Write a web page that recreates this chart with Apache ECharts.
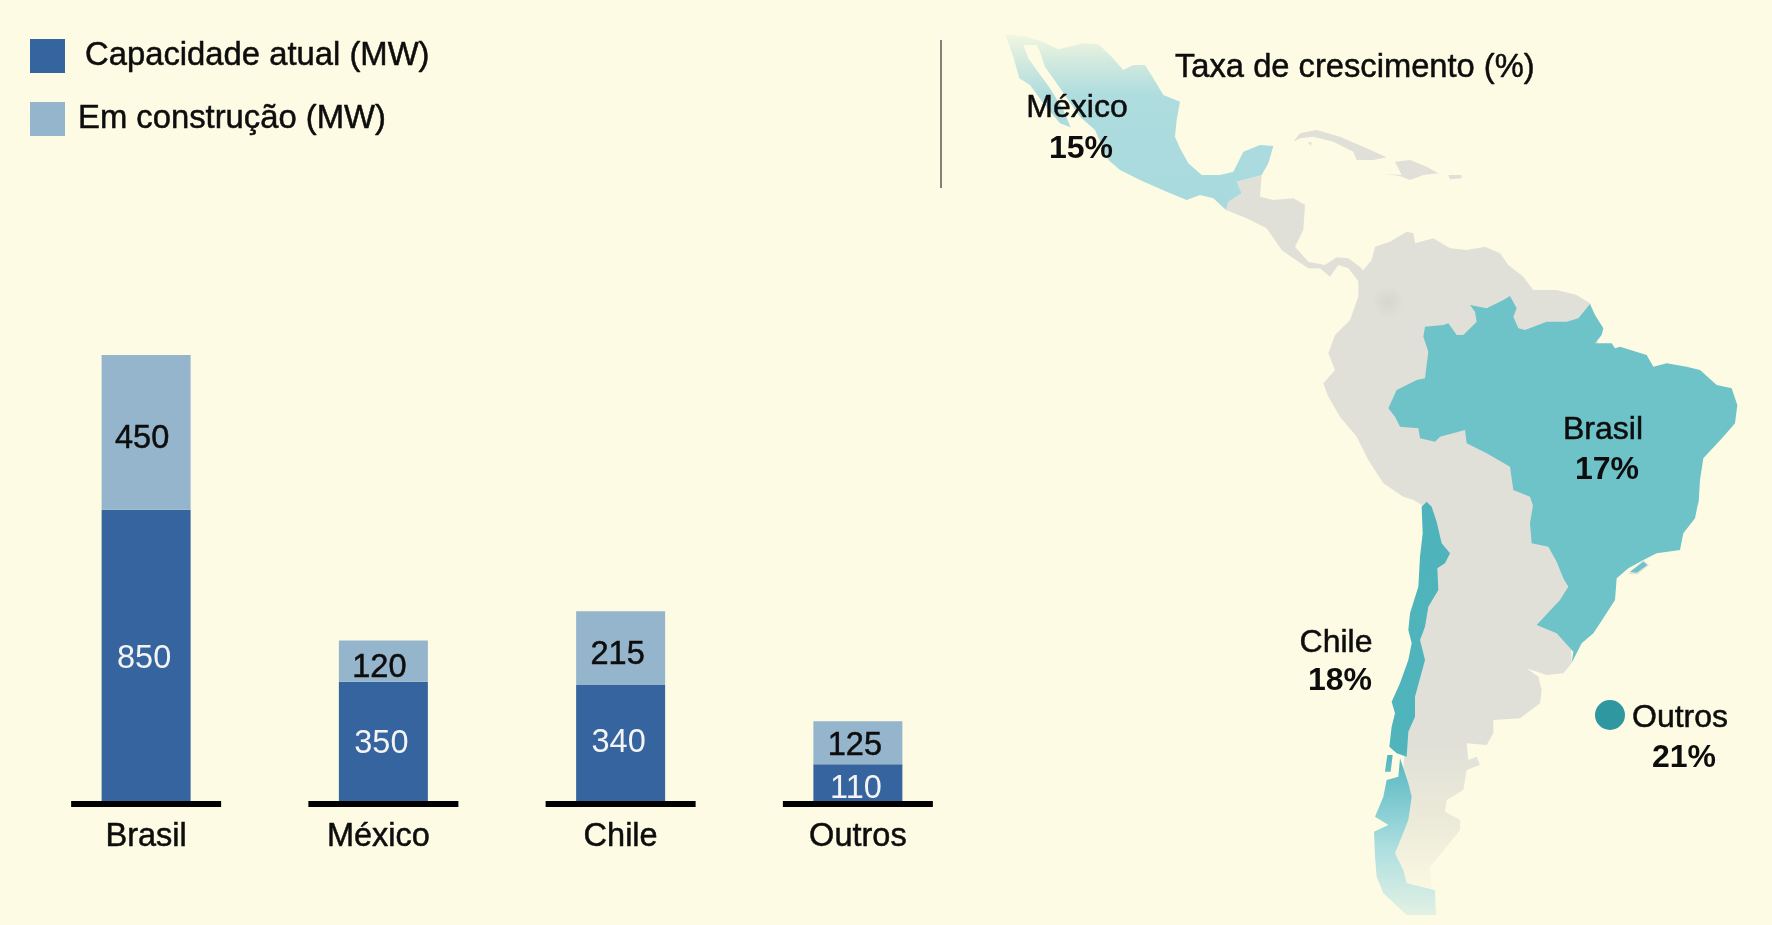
<!DOCTYPE html>
<html>
<head>
<meta charset="utf-8">
<style>html,body{margin:0;padding:0;background:#fdfbe3}#c{width:1772px;height:925px}</style>
<script src="https://cdn.jsdelivr.net/npm/echarts@6/dist/echarts.min.js"></script>
</head>
<body>
<div id="c"></div>
<script>
// ---- data ----
const categories = ['Brasil', 'México', 'Chile', 'Outros'];
const capacidadeAtual = [850, 350, 340, 110];
const emConstrucao = [450, 120, 215, 125];
const growthNames = ['México', 'Brasil', 'Chile', 'Outros'];
const growthValues = [15, 17, 18, 21];

// label nudges (px), kept apart from the values
const capacidadeNudge = [[-2,3],[-2,2],[-2,-1],[-2,6]];
const construcaoNudge = [[-4,7],[-4,7],[-3,7],[-3,3]];

// ---- map outlines (crop coordinates, 3x) ----
const crop = (ox, oy) => pts => pts.map(([x, y]) => [ox + x / 3, oy + y / 3]);
const north = crop(980, 20), mid = crop(1300, 220), south = crop(1300, 500);

const mexicoOutline = north([[75,42],[140,50],[180,62],[235,88],[310,70],[355,72],[395,110],[430,150],[460,135],[495,135],[520,175],[550,225],[600,245],[590,300],[585,350],[600,385],[625,430],[665,465],[720,465],[760,455],[790,395],[840,375],[880,378],[865,430],[845,465],[770,485],[785,520],[745,545],[738,570],[700,535],[660,525],[620,540],[560,515],[480,480],[420,450],[385,420],[345,330],[300,290],[265,240],[230,190],[195,140],[178,90],[170,75],[130,75],[145,115],[170,150],[210,205],[250,270],[272,322],[240,310],[190,250],[150,195],[118,175],[100,110]]);
const centralAmerica = north([[770,485],[845,465],[840,530],[880,540],[940,535],[975,555],[970,630],[945,680],[985,725],[1035,735],[1070,712],[1105,715],[1145,745],[1160,780],[1140,790],[1105,745],[1075,735],[1050,770],[1020,745],[985,745],[940,715],[905,690],[860,625],[800,595],[738,570],[745,545],[785,520]]);
const cuba = north([[940,365],[960,340],[1010,330],[1080,350],[1160,385],[1220,412],[1180,420],[1130,420],[1120,395],[1060,365],[1000,350],[960,355]]);
const hispaniola = north([[1215,462],[1265,465],[1245,425],[1290,420],[1340,440],[1375,460],[1330,465],[1290,480],[1260,468]]);
const puertoRico = north([[1405,465],[1445,465],[1445,475],[1410,478]]);
const jamaica = north([[983,367],[996,367],[992,377]]);
const southAmerica = [
  ...mid([[175,150],[190,150],[215,120],[225,80],[270,65],[320,35],[340,40],[345,70],[400,55],[450,85],[500,90],[555,80],[600,100],[625,135],[670,170],[700,210],[770,210],[830,225],[870,250],[900,400],[800,600]]),
  ...south([[800,100],[815,490],[790,520],[740,525],[680,505],[715,530],[725,570],[720,610],[660,655],[580,660],[580,700],[560,735],[500,730],[505,780],[530,770],[540,795],[500,810],[490,870],[440,900],[435,935],[480,960],[480,990],[440,1040],[390,1100],[395,1165],[310,1150],[280,1100],[285,1040],[300,900],[310,800],[320,700],[320,600],[345,500],[350,400],[365,300],[385,200],[390,100],[365,15],[340,0]]),
  ...mid([[310,830],[250,790],[205,720],[170,650],[120,590],[85,530],[70,490],[105,450],[85,400],[105,345],[150,300],[175,230]])
];
const maracaibo = mid([[315,105],[335,90],[345,110],[330,122]]);
const brazilOutline = [
  ...mid([[375,320],[430,315],[445,310],[470,345],[490,345],[530,305],[525,275],[510,255],[560,265],[610,240],[630,228],[650,265],[640,290],[655,325],[675,330],[740,305],[800,305],[835,295],[870,252],[885,285],[910,325],[905,345],[885,370],[935,370],[945,385],[960,380],[1040,405],[1060,440],[1100,430],[1160,440],[1200,450],[1250,495],[1295,505],[1312,555],[1305,610],[1270,650],[1210,715],[1200,780],[1195,860]]),
  ...south([[1195,5],[1185,55],[1150,100],[1140,150],[1070,160],[1030,180],[985,205],[950,235],[945,300],[900,370],[880,400],[845,430],[815,488],[820,455],[770,400],[710,375],[780,300],[805,260],[790,235],[770,185],[745,140],[695,130],[690,70],[700,10]]),
  ...mid([[700,860],[690,830],[640,810],[630,740],[560,700],[500,670],[495,630],[420,650],[405,665],[360,655],[355,625],[300,620],[285,590],[265,565],[290,510],[350,480],[375,475],[385,395],[370,350]])
];
const lagoon = south([[990,215],[1030,185],[1042,195],[1010,218]]);
const lagoonFloor = south([[985,222],[1030,180],[1047,195],[1012,223]]);
const chileNorth = south([[380,5],[395,20],[410,65],[425,130],[450,160],[435,190],[412,205],[415,270],[385,320],[375,380],[360,420],[375,480],[345,590],[345,650],[325,695],[320,770],[290,760],[268,740],[275,680],[285,640],[275,605],[300,550],[325,480],[335,430],[325,390],[330,340],[355,260],[360,170],[368,100],[365,20]]);
const chiloe = south([[262,765],[278,765],[272,815],[255,815]]);
const chileSouth = south([[300,775],[325,850],[335,890],[325,960],[305,1010],[285,1060],[310,1110],[320,1150],[405,1170],[408,1245],[320,1245],[250,1180],[230,1130],[225,1070],[222,995],[265,975],[225,950],[250,890],[260,840],[295,830]]);

// label anchors in map coordinates
const nameAnchors = [[1077,108],[1603,430],[1336,643],[1680,718]];
const valueAnchors = [[1081,149],[1607,470],[1340,681],[1684,758]];
const outrosDot = [[1610,715]];

const feature = (name, type, coordinates) => ({type:'Feature', properties:{name}, geometry:{type, coordinates}});
echarts.registerMap('latam', {type:'FeatureCollection', features:[
  feature('Caribe', 'MultiPolygon', [[centralAmerica],[cuba],[hispaniola],[puertoRico],[jamaica],[lagoonFloor]]),
  feature('Sul', 'Polygon', [southAmerica, maracaibo]),
  feature('Mexico', 'Polygon', [mexicoOutline]),
  feature('Chile', 'MultiPolygon', [[chileNorth],[chiloe],[chileSouth]]),
  feature('Brasil', 'Polygon', [brazilOutline, lagoon])
]});

const INK = '#0d0d0d', FONT = '"Liberation Sans", Arial, sans-serif';
const HEAVY = {textBorderColor:INK, textBorderWidth:0.5};
const vGrad = stops => ({type:'linear', x:0, y:0, x2:0, y2:1, colorStops:stops.map(([offset,color])=>({offset,color}))});
const GREY = '#e0e0d8';

const chart = echarts.init(document.getElementById('c'), null, {renderer:'canvas'});
chart.setOption({
  animation:false,
  backgroundColor:'#fdfbe3',
  textStyle:{fontFamily:FONT},
  title:{text:'Taxa de crescimento (%)', left:1175, top:51, padding:0, textStyle:{fontFamily:FONT,fontSize:32.7,fontWeight:'normal',color:INK,...HEAVY}},
  legend:[
    {data:['Capacidade atual (MW)'], left:30, top:39, padding:0, itemWidth:35, itemHeight:34, selectedMode:false, icon:'rect',
     textStyle:{fontFamily:FONT,fontSize:32.8,color:INK,padding:[4,0,0,15],...HEAVY}},
    {data:['Em construção (MW)'], left:30, top:102, padding:0, itemWidth:35, itemHeight:34, selectedMode:false, icon:'rect',
     textStyle:{fontFamily:FONT,fontSize:32.8,color:INK,padding:[0,0,4,8],...HEAVY}}
  ],
  grid:{left:27.5, top:355, width:949, height:447, containLabel:false},
  xAxis:{type:'category',
    data:categories.map(c => c === 'México' ? {value:c, textStyle:{padding:[0,10,0,0]}} : c),
    axisLine:{show:false}, axisTick:{show:false},
    axisLabel:{fontFamily:FONT,fontSize:32.5,color:INK,margin:19,interval:0,...HEAVY}},
  yAxis:{type:'value', min:0, max:1300, show:false, splitLine:{show:false}},
  geo:{map:'latam', silent:true, roam:false, left:0, top:0, width:1772, height:925,
    boundingCoords:[[0,0],[1772,925]], aspectScale:1,
    projection:{project:p=>p, unproject:p=>p},
    label:{show:false},
    itemStyle:{areaColor:GREY, borderWidth:0, borderColor:'transparent'},
    regions:[
      {name:'Caribe', itemStyle:{areaColor:GREY, borderWidth:0}},
      {name:'Sul', itemStyle:{areaColor:vGrad([[0,GREY],[0.78,GREY],[0.9,'#ecebd9'],[1,'#faf8e2']]), borderWidth:0}},
      {name:'Mexico', itemStyle:{areaColor:vGrad([[0,'#f3f7e1'],[0.15,'#d3eadf'],[0.35,'#aedcdf'],[1,'#a8dadd']]), borderWidth:0}},
      {name:'Chile', itemStyle:{areaColor:vGrad([[0,'#4fb3bb'],[0.6,'#4fb4bc'],[0.72,'#7cc9cf'],[0.84,'#aedfe0'],[1,'#e2f1e4']]), borderWidth:0}},
      {name:'Brasil', itemStyle:{areaColor:'#6dc3c8', borderWidth:0}}
    ]
  },
  graphic:[
    {type:'line', shape:{x1:941,y1:40,x2:941,y2:188}, style:{stroke:'#5a5a55',lineWidth:1.5}, z:5},
    {type:'circle', shape:{cx:1388,cy:302,r:16}, z:5, silent:true,
     style:{fill:{type:'radial',x:0.5,y:0.5,r:0.5,colorStops:[{offset:0,color:'rgba(200,200,195,0.4)'},{offset:1,color:'rgba(200,200,195,0)'}]}}}
  ],
  series:[
    {name:'Capacidade atual (MW)', type:'bar', stack:'t', barWidth:89,
      data:capacidadeAtual.map((v,i)=>({value:v,label:{offset:capacidadeNudge[i]}})),
      itemStyle:{color:'#36649f'},
      label:{show:true,position:'inside',fontFamily:FONT,fontSize:32.5,color:'#f4f4f4'}},
    {name:'Em construção (MW)', type:'bar', stack:'t', barWidth:89,
      data:emConstrucao.map((v,i)=>({value:v,label:{offset:construcaoNudge[i]}})),
      itemStyle:{color:'#95b5cd'},
      label:{show:true,position:'inside',fontFamily:FONT,fontSize:32.5,color:INK,...HEAVY}},
    {name:'base', type:'custom', data:categories.map((c,i)=>[i,0]), encode:{x:0,y:1}, z:6, silent:true, clip:false,
      renderItem:(params,api)=>{
        const p = api.coord([api.value(0),0]);
        return {type:'rect', shape:{x:p[0]-75,y:p[1]-1,width:150,height:6}, style:{fill:'#000'}};
      }},
    {name:'dot', type:'scatter', coordinateSystem:'geo', data:outrosDot, symbol:'circle', symbolSize:30, silent:true, z:6,
      itemStyle:{color:'#2f97a0',opacity:1}},
    {name:'nomes', type:'scatter', coordinateSystem:'geo', symbolSize:1, silent:true, z:7,
      itemStyle:{color:'transparent',opacity:1},
      data:growthNames.map((n,i)=>({name:n,value:nameAnchors[i]})),
      label:{show:true,position:'inside',formatter:'{b}',fontFamily:FONT,fontSize:32,color:INK,...HEAVY}},
    {name:'taxas', type:'scatter', coordinateSystem:'geo', symbolSize:1, silent:true, z:7,
      itemStyle:{color:'transparent',opacity:1},
      data:growthValues.map((v,i)=>({name:growthNames[i],value:valueAnchors[i]})),
      label:{show:true,position:'inside',formatter:p=>growthValues[p.dataIndex]+'%',fontFamily:FONT,fontSize:32,fontWeight:'bold',color:INK}}
  ]
});
</script>
</body>
</html>
